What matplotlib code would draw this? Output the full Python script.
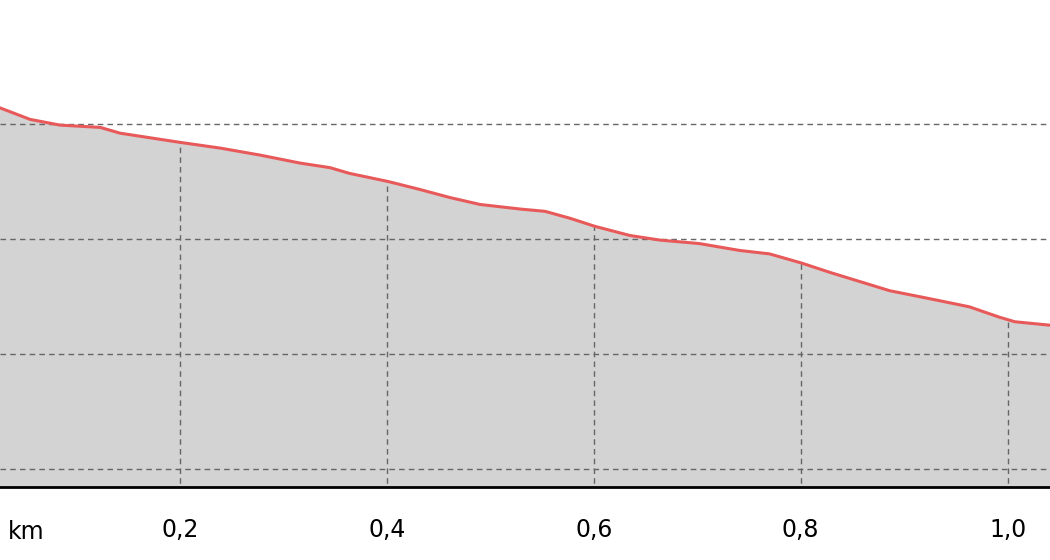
import numpy as np
import matplotlib.pyplot as plt

# distance (km) and elevation (m)
dist_km = [0.026, 0.055, 0.084, 0.123, 0.142, 0.171, 0.200, 0.239, 0.277, 0.316,
           0.345, 0.364, 0.401, 0.432, 0.461, 0.490, 0.529, 0.553, 0.577, 0.601,
           0.635, 0.664, 0.702, 0.741, 0.770, 0.801, 0.828, 0.857, 0.886, 0.925,
           0.963, 0.992, 1.007, 1.041]
elev_m = [131.4, 130.4, 129.9, 129.7, 129.2, 128.8, 128.4, 127.9, 127.3, 126.6,
          126.2, 125.7, 125.0, 124.3, 123.6, 123.0, 122.6, 122.4, 121.8, 121.1,
          120.3, 119.9, 119.6, 119.0, 118.7, 117.9, 117.1, 116.3, 115.5, 114.8,
          114.1, 113.2, 112.8, 112.5]
tick_km = [0.2, 0.4, 0.6, 0.8, 1.0]
tick_labels = ["0,2", "0,4", "0,6", "0,8", "1,0"]
grid_elev = [100, 110, 120, 130]

fig = plt.figure(figsize=(10.5, 5.6), dpi=100)
ax = fig.add_axes([0, 73 / 560, 1, 487 / 560])

ax.fill_between(dist_km, elev_m, 0, color="#d3d3d3", zorder=1)
ax.plot(dist_km, elev_m, color="#e8595a", lw=2.2, zorder=3)

# vertical grid only below the profile
for t in tick_km:
    top = np.interp(t, dist_km, elev_m)
    ax.vlines(t, 0, top, colors="#666666", linestyles=(0, (4, 3)), lw=1, zorder=2)
for g in grid_elev:
    ax.axhline(g, color="#666666", ls=(0, (4, 3)), lw=1, zorder=2)

ax.set_xlim(0.026, 1.041)
ax.set_ylim(98.43, 140.78)
ax.set_xticks(tick_km)
ax.set_xticklabels(tick_labels, fontsize=17)
ax.tick_params(axis="x", length=0, pad=22)
ax.set_yticks([])
for side in ["top", "left", "right"]:
    ax.spines[side].set_visible(False)
ax.spines["bottom"].set_linewidth(2)
ax.text(8 / 1050, -0.092, "km", transform=ax.transAxes, fontsize=17, va="center")

fig.savefig("out.png", dpi=100)
